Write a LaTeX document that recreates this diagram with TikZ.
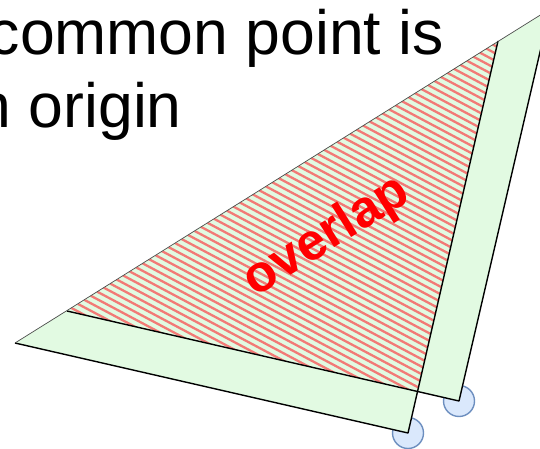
\documentclass[tikz,border=0pt]{standalone}
\usepackage{fontspec}
\setmainfont{Liberation Sans}
\definecolor{pale}{RGB}{226,250,226}
\definecolor{hatchred}{RGB}{242,122,118}
\definecolor{cfill}{HTML}{DAE8FC}
\definecolor{cdraw}{HTML}{6C8EBF}
\begin{document}
\begin{tikzpicture}[x=1pt,y=-1pt,
  edge/.style={draw=black,line width=1.4pt,line join=round},
  topedge/.style={draw=black!70,line width=0.7pt},
  hub/.style={circle,draw=cdraw,fill=cfill,line width=1.4pt,minimum size=31pt,inner sep=0pt},
  stripe/.style={draw=hatchred,line width=2.3pt},
  head/.style={font=\fontsize{62.5}{72}\selectfont,text=black,inner sep=0pt},
  tag/.style={font=\fontsize{52}{60}\selectfont\bfseries,text=red,inner sep=0pt,rotate=32}]
\useasboundingbox (0,0) rectangle (540,449);
\clip (0,0) rectangle (540,449);
\coordinate (A1) at (15,343);
\coordinate (B1) at (408,433);
\coordinate (C1) at (498,41);
\coordinate (A2) at (67,311);
\coordinate (B2) at (459,401);
\coordinate (C2) at (550,9);
\node[hub] (h1) at (B1) {};
\node[hub] (h2) at (B2) {};
\fill[pale] (A1)--(B1)--(C1)--cycle;
\fill[pale] (A2)--(B2)--(C2)--cycle;
\begin{scope}
\clip (A1)--(B1)--(C1)--cycle;
\clip (A2)--(B2)--(C2)--cycle;
\foreach \k in {-55,...,65} \draw[stripe] (0,\k*7.5) -- ++(600,319);
\end{scope}
\draw[edge] (A1)--(B1)--(C1);
\draw[edge] (A2)--(B2)--(C2);
\draw[topedge] (A1)--(C2);
\node[head,anchor=base east] (t1) at (444,55) {common point is};
\node[head,anchor=base east] (t2) at (182,128) {n origin};
\node[tag] (ov) at (327,237) {overlap};
\end{tikzpicture}
\end{document}
